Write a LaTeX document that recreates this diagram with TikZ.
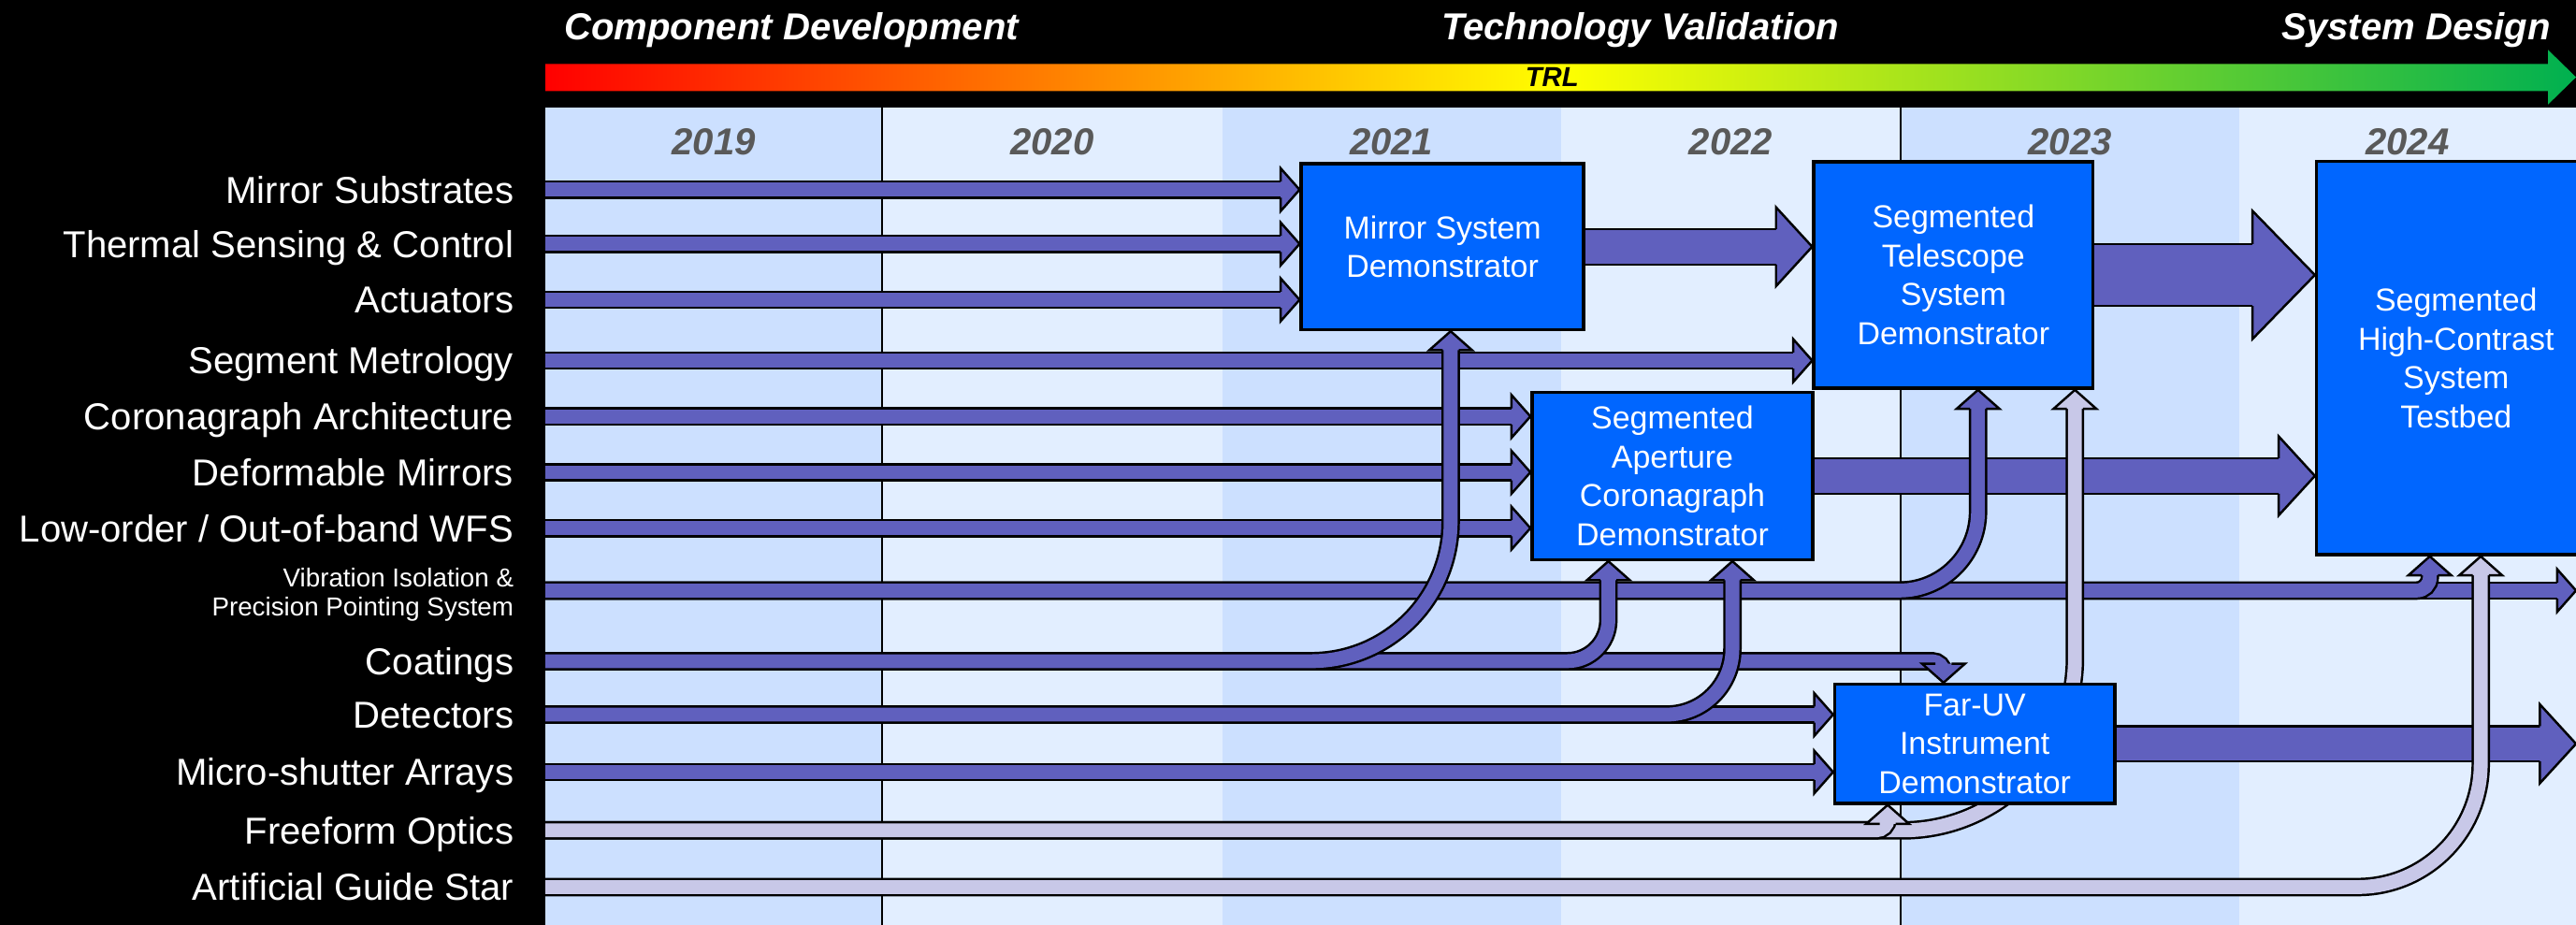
\documentclass[tikz,border=0pt]{standalone}
\usepackage{fontspec}
\setmainfont{Liberation Sans}
\usetikzlibrary{calc}
\definecolor{flow}{RGB}{96,96,190}
\definecolor{flowlight}{RGB}{200,200,232}
\definecolor{demoblue}{RGB}{0,102,255}
\definecolor{yrdark}{RGB}{204,224,255}
\definecolor{yrlight}{RGB}{226,238,255}
\definecolor{yrtext}{RGB}{89,89,89}
\definecolor{trlred}{RGB}{255,0,0}
\definecolor{trlorange}{RGB}{255,128,0}
\definecolor{trlyellow}{RGB}{255,255,0}
\definecolor{trlgreen}{RGB}{0,176,80}
\pgfdeclarehorizontalshading{trl}{100bp}{color(0bp)=(trlred); color(25bp)=(trlred); color(37.5bp)=(trlorange); color(50bp)=(trlyellow); color(75bp)=(trlgreen); color(100bp)=(trlgreen)}
\pgfdeclarelayer{bg}
\pgfdeclarelayer{links}
\pgfsetlayers{bg,links,main}
\tikzset{
  lab/.style={anchor=east, inner sep=0pt, text=white, text height=9.3pt, text depth=0pt, font=\fontsize{13}{15}\selectfont},
  sublab/.style={anchor=east, inner sep=0pt, text=white, align=right, font=\fontsize{9}{10.2}\selectfont},
  phase/.style={anchor=base, inner sep=0pt, text=white, font=\fontsize{13}{15}\selectfont\bfseries\itshape},
  yr/.style={anchor=base, inner sep=0pt, text=yrtext, font=\fontsize{13}{15}\selectfont\bfseries\itshape},
  demo/.style={draw=black, line width=1.1pt, fill=demoblue, text=white, align=center, inner sep=0pt, font=\fontsize{11}{13.5}\selectfont},
  shaft/.style={draw=black, line width=0.8pt, double=#1, double distance=4.8pt, shorten >=3.2pt},
  shaft/.default=flow,
  midshaft/.style={draw=black, line width=0.8pt, double=flow, double distance=11.5pt, shorten >=7pt},
  bigshaft/.style={draw=black, line width=0.8pt, double=flow, double distance=20.6pt, shorten >=11.5pt},
  pics/tip/.style={code={
    \filldraw[fill=#1, draw=black, line width=0.8pt] (-11.5,4.9) -- (-11.5,13) -- (0,0) -- (-11.5,-13) -- (-11.5,-4.9);
  }},
  pics/midtip/.style={code={
    \filldraw[fill=flow, draw=black, line width=0.8pt] (-22,10.8) -- (-22,24) -- (0,0) -- (-22,-24) -- (-22,-10.8);
  }},
  pics/bigtip/.style={code={
    \filldraw[fill=flow, draw=black, line width=0.8pt] (-38,18.8) -- (-38,39) -- (0,0) -- (-38,-39) -- (-38,-18.8);
  }}
}

\begin{document}
\begin{tikzpicture}[x=0.02cm,y=0.02cm]
\useasboundingbox (0,0) rectangle (1568,563);
\coordinate (x0) at (332,0);
\coordinate (xe) at (1568,0);

% phases and TRL scale
\node[phase] (cdev) at (481.7,538.7) {Component Development};
\node[phase] (tval) at (998.5,538.7) {Technology Validation};
\node[phase, anchor=base east] (sdes) at (1553,538.7) {System Design};
\node[inner sep=0pt, font=\fontsize{9.5}{11}\selectfont\bfseries\itshape] (trl) at (944.7,515.9) {TRL};

% years
\node[yr] (y19) at (434.5,469) {2019};
\node[yr] (y20) at (640.5,469) {2020};
\node[yr] (y21) at (847,469) {2021};
\node[yr] (y22) at (1053.5,469) {2022};
\node[yr] (y23) at (1260,469) {2023};
\node[yr] (y24) at (1465.5,469) {2024};

% technologies
\node[lab] (ms) at (313,447.5) {Mirror Substrates};
\node[lab] (tsc) at (313,414.5) {Thermal Sensing \& Control};
\node[lab] (act) at (313,380.5) {Actuators};
\node[lab] (smet) at (313,343.5) {Segment Metrology};
\node[lab] (carch) at (313,309.5) {Coronagraph Architecture};
\node[lab] (dm) at (313,275.5) {Deformable Mirrors};
\node[lab] (wfs) at (313,241.5) {Low-order / Out-of-band WFS};
\node[sublab] (vib) at (313,201) {Vibration Isolation \&\\Precision Pointing System};
\node[lab] (coat) at (313,160.5) {Coatings};
\node[lab] (det) at (313,128) {Detectors};
\node[lab] (msa) at (313,93) {Micro-shutter Arrays};
\node[lab] (ffo) at (313,57.5) {Freeform Optics};
\node[lab] (ags) at (313,23) {Artificial Guide Star};
\coordinate (vibrow) at (313,203.5);

% demonstrators
\node[demo, minimum width=3.44cm, minimum height=2.02cm] (msd) at (878,412.8) {Mirror System\\Demonstrator};
\node[demo, minimum width=3.4cm, minimum height=2.76cm] (stsd) at (1189,395.6) {Segmented\\Telescope\\System\\Demonstrator};
\node[demo, minimum width=3.4cm, minimum height=4.79cm] (shcst) at (1495,345) {Segmented\\High-Contrast\\System\\Testbed};
\node[demo, minimum width=3.42cm, minimum height=2.04cm] (sacd) at (1018,273.3) {Segmented\\Aperture\\Coronagraph\\Demonstrator};
\node[demo, minimum width=3.41cm, minimum height=1.45cm] (fuv) at (1202,110.2) {Far-UV\\Instrument\\Demonstrator};

\begin{pgfonlayer}{bg}
\fill[black] (0,0) rectangle (1568,563);
\shade[shading=trl] (332,507.6) -- (1551,507.6) -- (1551,499.4) -- (1568,516) -- (1551,532.6) -- (1551,524.1) -- (332,524.1) -- cycle;
\fill[yrdark] (332,0) rectangle (537,497.5);
\fill[yrlight] (537,0) rectangle (744,497.5);
\fill[yrdark] (744,0) rectangle (950,497.5);
\fill[yrlight] (950,0) rectangle (1157,497.5);
\fill[yrdark] (1157,0) rectangle (1363,497.5);
\fill[yrlight] (1363,0) rectangle (1568,497.5);
\draw[line width=0.5pt] (537,0) -- (537,497.5);
\draw[line width=0.5pt] (1157,0) -- (1157,497.5);
\end{pgfonlayer}

\begin{pgfonlayer}{links}
% technology lines
\draw[shaft] (ms.east -| x0) -- (msd.west |- ms.east);
\pic at (msd.west |- ms.east) {tip=flow};
\draw[shaft] (tsc.east -| x0) -- (msd.west |- tsc.east);
\pic at (msd.west |- tsc.east) {tip=flow};
\draw[shaft] (act.east -| x0) -- (msd.west |- act.east);
\pic at (msd.west |- act.east) {tip=flow};
\draw[shaft] (smet.east -| x0) -- (stsd.west |- smet.east);
\pic at (stsd.west |- smet.east) {tip=flow};
\draw[shaft] (carch.east -| x0) -- (sacd.west |- carch.east);
\pic at (sacd.west |- carch.east) {tip=flow};
\draw[shaft] (dm.east -| x0) -- (sacd.west |- dm.east);
\pic at (sacd.west |- dm.east) {tip=flow};
\draw[shaft] (wfs.east -| x0) -- (sacd.west |- wfs.east);
\pic at (sacd.west |- wfs.east) {tip=flow};
\draw[shaft] (vibrow -| x0) -- (vibrow -| xe);
\pic at (vibrow -| xe) {tip=flow};
\draw[shaft] (det.east -| x0) -- (fuv.west |- det.east);
\pic at (fuv.west |- det.east) {tip=flow};
\draw[shaft] (msa.east -| x0) -- (fuv.west |- msa.east);
\pic at (fuv.west |- msa.east) {tip=flow};
\draw[shaft, rounded corners=0.14cm] (coat.east -| x0) -| ($(fuv.north)+(-19,0)$) coordinate (c3);
\pic[rotate=-90] at (c3) {tip=flow};

% demonstrator to demonstrator
\draw[midshaft] (msd.east) -- (stsd.west |- msd.east);
\pic at (stsd.west |- msd.east) {midtip};
\draw[bigshaft] (stsd.east) -- (shcst.west |- stsd.east);
\pic at (shcst.west |- stsd.east) {bigtip};
\draw[midshaft] (sacd.east) -- (shcst.west |- sacd.east);
\pic at (shcst.west |- sacd.east) {midtip};
\draw[midshaft] (fuv.east) -- (fuv.east -| xe);
\pic at (fuv.east -| xe) {midtip};

% branches
\draw[shaft, rounded corners=0.16cm] (vibrow -| x0) -| ($(shcst.south)+(-16,0)$) coordinate (v2);
\pic[rotate=90] at (v2) {tip=flow};
\draw[shaft, rounded corners=0.96cm] (vibrow -| x0) -| ($(stsd.south)+(15,0)$) coordinate (v1);
\pic[rotate=90] at (v1) {tip=flow};
\draw[shaft, rounded corners=0.5cm] (coat.east -| x0) -| ($(sacd.south)+(-39,0)$) coordinate (c2);
\pic[rotate=90] at (c2) {tip=flow};
\draw[shaft, rounded corners=1.7cm] (coat.east -| x0) -| ($(msd.south)+(5,0)$) coordinate (c1);
\pic[rotate=90] at (c1) {tip=flow};
\draw[shaft, rounded corners=0.8cm] (det.east -| x0) -| ($(sacd.south)+(36.5,0)$) coordinate (d1);
\pic[rotate=90] at (d1) {tip=flow};
\draw[shaft=flowlight, rounded corners=2.1cm] (ffo.east -| x0) -| ($(stsd.south)+(74,0)$) coordinate (f1);
\pic[rotate=90] at (f1) {tip=flowlight};
\draw[shaft=flowlight, rounded corners=0.14cm] (ffo.east -| x0) -| ($(fuv.south)+(-53,0)$) coordinate (f2);
\pic[rotate=90] at (f2) {tip=flowlight};
\draw[shaft=flowlight, rounded corners=1.5cm] (ags.east -| x0) -| ($(shcst.south)+(15,0)$) coordinate (g1);
\pic[rotate=90] at (g1) {tip=flowlight};
\end{pgfonlayer}
\end{tikzpicture}
\end{document}
